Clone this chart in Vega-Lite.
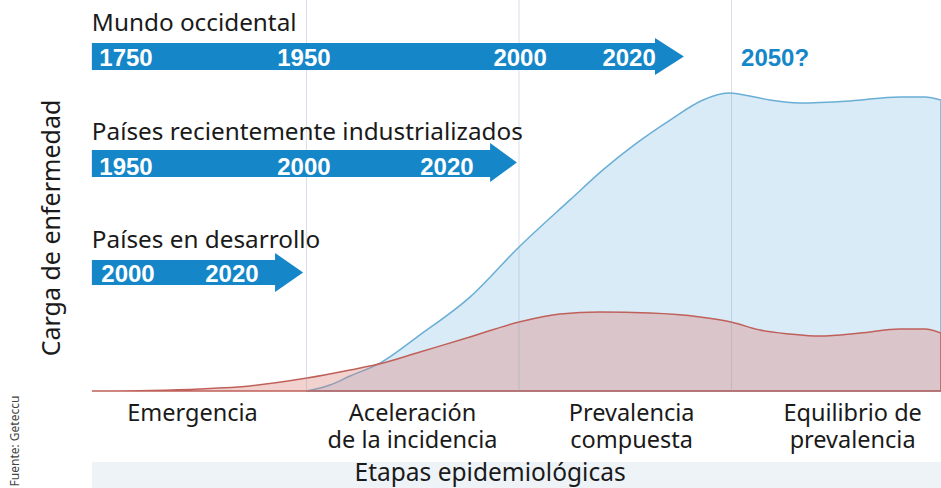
{
  "$schema": "https://vega.github.io/schema/vega-lite/v6.json",
  "width": 941,
  "height": 488,
  "padding": 0,
  "autosize": {"type": "none"},
  "background": "white",
  "config": {"view": {"stroke": null}},
  "encoding": {
    "x": {"field": "x", "type": "quantitative", "scale": {"domain": [-0.44235, 3.98588], "nice": false, "zero": false}, "axis": null},
    "y": {"field": "y", "type": "quantitative", "scale": {"domain": [-32.333, 130.333], "nice": false, "zero": false}, "axis": null}
  },
  "layer": [
    {
      "data": {"values": [{"x": -0.01, "x2": 3.986, "y": -23.67, "y2": -32.333}]},
      "mark": {"type": "rect", "color": "#eef3f8"},
      "encoding": {"x2": {"field": "x2"}, "y2": {"field": "y2"}}
    },
    {
      "data": {"values": [
        {"x": 1.0, "y": 0}, {"x": 1.11, "y": 2}, {"x": 1.205, "y": 5}, {"x": 1.346, "y": 9.3},
        {"x": 1.534, "y": 18.7}, {"x": 1.769, "y": 31.3}, {"x": 2.0, "y": 48}, {"x": 2.24, "y": 63.7},
        {"x": 2.395, "y": 73.7}, {"x": 2.555, "y": 82.7}, {"x": 2.711, "y": 90.3}, {"x": 2.866, "y": 97},
        {"x": 2.984, "y": 99.3}, {"x": 3.06, "y": 98.7}, {"x": 3.18, "y": 97}, {"x": 3.32, "y": 96},
        {"x": 3.56, "y": 96.7}, {"x": 3.79, "y": 98}, {"x": 3.91, "y": 98}, {"x": 3.986, "y": 97}
      ]},
      "mark": {"type": "area", "interpolate": "monotone", "fill": "#d9ebf7", "stroke": "#6aaed6", "strokeWidth": 1.5},
      "encoding": {"y2": {"datum": 0}}
    },
    {
      "data": {"values": [
        {"x": -0.01, "y": 0}, {"x": 0.264, "y": 0.2}, {"x": 0.5, "y": 0.7}, {"x": 0.734, "y": 1.7},
        {"x": 1.002, "y": 4.3}, {"x": 1.205, "y": 7}, {"x": 1.36, "y": 9.3}, {"x": 1.534, "y": 13},
        {"x": 1.769, "y": 18}, {"x": 2.0, "y": 23}, {"x": 2.193, "y": 25.7}, {"x": 2.381, "y": 26.3},
        {"x": 2.616, "y": 26}, {"x": 2.852, "y": 24.7}, {"x": 2.998, "y": 23}, {"x": 3.134, "y": 20.3},
        {"x": 3.275, "y": 19}, {"x": 3.416, "y": 18.3}, {"x": 3.605, "y": 19.3}, {"x": 3.793, "y": 20.7},
        {"x": 3.91, "y": 20.7}, {"x": 3.986, "y": 19.3}
      ]},
      "mark": {"type": "area", "interpolate": "monotone", "fill": "#d97e76", "fillOpacity": 0.35, "stroke": "#c0605a", "strokeWidth": 1.5},
      "encoding": {"y2": {"datum": 0}}
    },
    {
      "data": {"values": [{"x": 1, "y": 0, "y2": 130.333}, {"x": 2, "y": 0, "y2": 130.333}, {"x": 3, "y": 0, "y2": 130.333}]},
      "mark": {"type": "rule", "color": "#8aa4b8", "opacity": 0.35, "strokeWidth": 1},
      "encoding": {"y2": {"field": "y2"}}
    },
    {
      "data": {"values": [
        {"arrow": "a", "x": -0.01, "y": 107, "y2": 116},
        {"arrow": "a", "x": 2.64, "y": 107, "y2": 116},
        {"arrow": "a", "x": 2.6401, "y": 105.33, "y2": 117.67},
        {"arrow": "a", "x": 2.776, "y": 111.5, "y2": 111.5},
        {"arrow": "b", "x": -0.01, "y": 71.33, "y2": 80.33},
        {"arrow": "b", "x": 1.864, "y": 71.33, "y2": 80.33},
        {"arrow": "b", "x": 1.8641, "y": 69.67, "y2": 82.67},
        {"arrow": "b", "x": 1.99, "y": 76.17, "y2": 76.17},
        {"arrow": "c", "x": -0.01, "y": 35.33, "y2": 43.67},
        {"arrow": "c", "x": 0.852, "y": 35.33, "y2": 43.67},
        {"arrow": "c", "x": 0.8521, "y": 33, "y2": 46},
        {"arrow": "c", "x": 0.984, "y": 39.5, "y2": 39.5}
      ]},
      "mark": {"type": "area", "interpolate": "linear", "color": "#1587c9"},
      "encoding": {"y2": {"field": "y2"}, "detail": {"field": "arrow"}}
    },
    {
      "data": {"values": [
        {"x": 0.1506, "y": 108.33, "t": "1750"}, {"x": 0.988, "y": 108.33, "t": "1950"},
        {"x": 2.005, "y": 108.33, "t": "2000"}, {"x": 2.518, "y": 108.33, "t": "2020"},
        {"x": 0.1506, "y": 72, "t": "1950"}, {"x": 0.988, "y": 72, "t": "2000"}, {"x": 1.661, "y": 72, "t": "2020"},
        {"x": 0.16, "y": 36.33, "t": "2000"}, {"x": 0.649, "y": 36.33, "t": "2020"}
      ]},
      "mark": {"type": "text", "font": "Liberation Sans", "fontWeight": "bold", "fontSize": 24, "color": "white", "align": "center", "baseline": "alphabetic"},
      "encoding": {"text": {"field": "t"}}
    },
    {
      "data": {"values": [{"x": 3.205, "y": 108.33, "t": "2050?"}]},
      "mark": {"type": "text", "font": "Liberation Sans", "fontWeight": "bold", "fontSize": 24, "color": "#1587c9", "align": "center", "baseline": "alphabetic"},
      "encoding": {"text": {"field": "t"}}
    },
    {
      "data": {"values": [
        {"x": -0.01, "y": 120, "t": "Mundo occidental"},
        {"x": -0.01, "y": 83.83, "t": "Países recientemente industrializados"},
        {"x": -0.01, "y": 47.67, "t": "Países en desarrollo"}
      ]},
      "mark": {"type": "text", "font": "Noto Sans", "fontSize": 24.3, "color": "#1a1a1a", "align": "left", "baseline": "alphabetic"},
      "encoding": {"text": {"field": "t"}}
    },
    {
      "data": {"values": [
        {"x": 0.4635, "y": -10, "t": "Emergencia"},
        {"x": 1.499, "y": -10, "t": "Aceleración"},
        {"x": 1.499, "y": -19, "t": "de la incidencia"},
        {"x": 2.53, "y": -10, "t": "Prevalencia"},
        {"x": 2.53, "y": -19, "t": "compuesta"},
        {"x": 3.57, "y": -10, "t": "Equilibrio de"},
        {"x": 3.57, "y": -19, "t": "prevalencia"}
      ]},
      "mark": {"type": "text", "font": "Noto Sans", "fontSize": 23.5, "color": "#1a1a1a", "align": "center", "baseline": "alphabetic"},
      "encoding": {"text": {"field": "t"}}
    },
    {
      "data": {"values": [{"x": 1.864, "y": -30, "t": "Etapas epidemiológicas"}]},
      "mark": {"type": "text", "font": "Noto Sans", "fontSize": 24.5, "color": "#1a1a1a", "align": "center", "baseline": "alphabetic"},
      "encoding": {"text": {"field": "t"}}
    },
    {
      "data": {"values": [{"x": -0.16, "y": 54.33, "t": "Carga de enfermedad"}]},
      "mark": {"type": "text", "font": "Noto Sans", "fontSize": 25, "color": "#1a1a1a", "align": "center", "baseline": "alphabetic", "angle": 270},
      "encoding": {"text": {"field": "t"}}
    },
    {
      "data": {"values": [{"x": -0.352, "y": -16.67, "t": "Fuente: Geteccu"}]},
      "mark": {"type": "text", "font": "Noto Sans", "fontSize": 12, "color": "#444444", "align": "center", "baseline": "alphabetic", "angle": 270},
      "encoding": {"text": {"field": "t"}}
    }
  ]
}
